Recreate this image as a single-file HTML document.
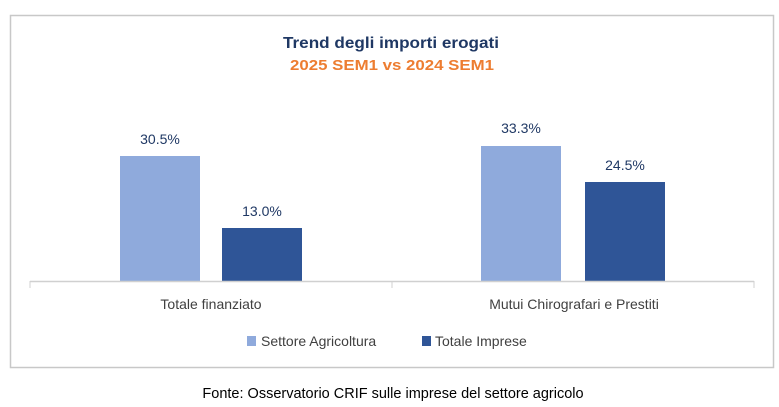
<!DOCTYPE html>
<html><head><meta charset="utf-8"><style>
body{margin:0;background:#fff;width:779px;height:407px;overflow:hidden;font-family:"Liberation Sans",sans-serif}
svg{display:block}
</style></head><body>
<svg width="779" height="407" xmlns="http://www.w3.org/2000/svg" font-family="Liberation Sans, sans-serif">
<rect x="10.5" y="15.5" width="763" height="352" fill="#fff" stroke="#c8c8c8" stroke-width="1.5"/>
<text x="391" y="48" text-anchor="middle" font-size="16" font-weight="bold" fill="#1f3864" textLength="216" lengthAdjust="spacingAndGlyphs">Trend degli importi erogati</text>
<text x="392" y="70" text-anchor="middle" font-size="15" font-weight="bold" fill="#ed7d31" textLength="204" lengthAdjust="spacingAndGlyphs">2025 SEM1 vs 2024 SEM1</text>
<rect x="120" y="156" width="80" height="125" fill="#8faadc"/>
<rect x="222" y="228" width="80" height="53" fill="#2f5597"/>
<rect x="481" y="146" width="80" height="135" fill="#8faadc"/>
<rect x="585" y="182" width="80" height="99" fill="#2f5597"/>
<line x1="30" y1="281.5" x2="754" y2="281.5" stroke="#d0d0d0" stroke-width="1.5"/>
<line x1="30" y1="281" x2="30" y2="288" stroke="#d0d0d0"/>
<line x1="392" y1="281" x2="392" y2="288" stroke="#d0d0d0"/>
<line x1="754" y1="281" x2="754" y2="288" stroke="#d0d0d0"/>
<g font-size="14" fill="#1f3864" text-anchor="middle">
<text x="160" y="144">30.5%</text>
<text x="262" y="216">13.0%</text>
<text x="521" y="133">33.3%</text>
<text x="625" y="170">24.5%</text>
</g>
<g font-size="14" fill="#404040" text-anchor="middle">
<text x="211" y="309">Totale finanziato</text>
<text x="574" y="309">Mutui Chirografari e Prestiti</text>
</g>
<rect x="247" y="336" width="9" height="10" fill="#8faadc"/>
<text x="261" y="346" font-size="14" fill="#404040">Settore Agricoltura</text>
<rect x="422" y="336" width="9" height="10" fill="#2f5597"/>
<text x="435" y="346" font-size="14" fill="#404040">Totale Imprese</text>
<text x="393" y="398" text-anchor="middle" font-size="14.5" fill="#000">Fonte: Osservatorio CRIF sulle imprese del settore agricolo</text>
</svg>
</body></html>
